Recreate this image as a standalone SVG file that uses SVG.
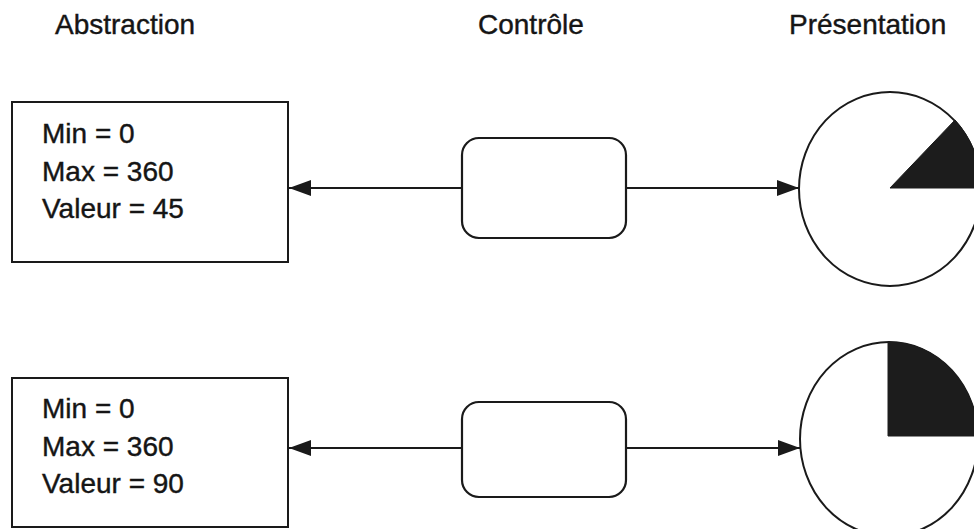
<svg xmlns="http://www.w3.org/2000/svg" width="974" height="529" viewBox="0 0 974 529">
<style>
text{font-family:"Liberation Sans",Arial,sans-serif;font-size:28px;fill:#151515;stroke:#151515;stroke-width:0.4}
.box{fill:#fff;stroke:#1a1a1a;stroke-width:2}
.ctl{fill:#fff;stroke:#1a1a1a;stroke-width:2.2}
.pres{fill:#fff;stroke:#1a1a1a;stroke-width:2}
.wedge{fill:#1c1c1c;stroke:#1c1c1c;stroke-width:1}
.conn{stroke:#1a1a1a;stroke-width:2;fill:none}
</style>
<defs>
<marker id="ah" viewBox="0 0 22 16" refX="22" refY="8" markerWidth="22" markerHeight="16" markerUnits="userSpaceOnUse" orient="auto">
<path d="M0,0 L22,8 L0,16 Z" fill="#1a1a1a"/>
</marker>
</defs>
<rect width="974" height="529" fill="#fff"/>
<g id="headers">
<text x="55" y="34">Abstraction</text>
<text x="478" y="34">Contrôle</text>
<text x="789" y="34">Présentation</text>
</g>
<g id="connectors">
<line class="conn" x1="462" y1="188" x2="289" y2="188" marker-end="url(#ah)"/>
<line class="conn" x1="626" y1="188" x2="799" y2="188" marker-end="url(#ah)"/>
<line class="conn" x1="462" y1="448" x2="289" y2="448" marker-end="url(#ah)"/>
<line class="conn" x1="626" y1="448" x2="800" y2="448" marker-end="url(#ah)"/>
</g>
<g id="abstraction1">
<rect class="box" x="12" y="102" width="276" height="160"/>
<text x="42" y="143">Min = 0</text>
<text x="42" y="181">Max = 360</text>
<text x="42" y="218">Valeur = 45</text>
</g>
<g id="controle1">
<rect class="ctl" x="462" y="138" width="164" height="100" rx="17" ry="17"/>
</g>
<g id="presentation1">
<ellipse class="pres" cx="890" cy="189" rx="91" ry="97"/>
<path class="wedge" d="M890,188 L955,120 A91,97 0 0 1 981,188 Z"/>
</g>
<g id="abstraction2">
<rect class="box" x="12" y="378" width="276" height="149"/>
<text x="42" y="418">Min = 0</text>
<text x="42" y="456">Max = 360</text>
<text x="42" y="493">Valeur = 90</text>
</g>
<g id="controle2">
<rect class="ctl" x="462" y="402" width="164" height="95" rx="17" ry="17"/>
</g>
<g id="presentation2">
<ellipse class="pres" cx="889" cy="439" rx="89" ry="97"/>
<path class="wedge" d="M888,436 L888,342 A89,97 0 0 1 978,436 Z"/>
</g>
</svg>
